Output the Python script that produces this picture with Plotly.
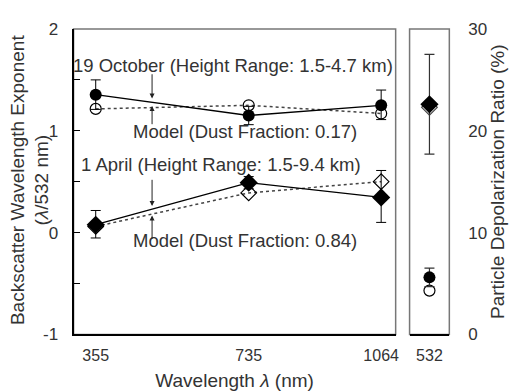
import plotly.graph_objects as go

# ---- data ----
wavelengths = [355, 735, 1064]
oct_obs = [1.355, 1.15, 1.25]
oct_obs_err_plus = [0.145, 0.09, 0.15]
oct_obs_err_minus = [0.145, 0.09, 0.14]
oct_model = [1.215, 1.25, 1.17]
apr_obs = [0.077, 0.49, 0.345]
apr_obs_err_plus = [0.14, 0.06, 0.265]
apr_obs_err_minus = [0.13, 0.06, 0.245]
apr_model = [0.06, 0.39, 0.50]

y_ticks = [-1, 0, 1, 2]
y_ticktext = ["-1", "0", "1", "2"]

depol_wl = ["532"]
oct_depol = [5.6]
oct_depol_err = [0.9]
oct_depol_model = [4.3]
apr_depol = [22.6]
apr_depol_err = [4.9]
apr_depol_model = [22.3]

FONT = "Liberation Sans, Arial, sans-serif"
TXT = "#333333"
FS = 16
AFS = 18.5
TFS = 19

fig = go.Figure()

# ---- main panel ----
fig.add_trace(go.Scatter(x=wavelengths, y=oct_model, mode="lines+markers",
                         line=dict(color="#444", width=1.5, dash="dot"),
                         marker=dict(symbol="circle-open", size=11, color="black", line=dict(width=1.2)),
                         xaxis="x", yaxis="y", showlegend=False))
fig.add_trace(go.Scatter(x=wavelengths, y=oct_obs, mode="lines+markers",
                         line=dict(color="black", width=1.3),
                         marker=dict(symbol="circle", size=12, color="black"),
                         error_y=dict(type="data", array=oct_obs_err_plus, arrayminus=oct_obs_err_minus,
                                      color="black", thickness=1, width=5),
                         xaxis="x", yaxis="y", showlegend=False))
fig.add_trace(go.Scatter(x=wavelengths, y=apr_model, mode="lines+markers",
                         line=dict(color="#444", width=1.5, dash="dot"),
                         marker=dict(symbol="diamond-open", size=12, color="black", line=dict(width=1.2)),
                         xaxis="x", yaxis="y", showlegend=False))
fig.add_trace(go.Scatter(x=wavelengths, y=apr_obs, mode="lines+markers",
                         line=dict(color="black", width=1.3),
                         marker=dict(symbol="diamond", size=14, color="black"),
                         error_y=dict(type="data", array=apr_obs_err_plus, arrayminus=apr_obs_err_minus,
                                      color="black", thickness=1, width=5),
                         xaxis="x", yaxis="y", showlegend=False))

# ---- right panel ----
fig.add_trace(go.Scatter(x=depol_wl, y=apr_depol_model, mode="markers",
                         marker=dict(symbol="diamond-open", size=12, color="#444", line=dict(width=1.2)),
                         xaxis="x2", yaxis="y2", showlegend=False))
fig.add_trace(go.Scatter(x=depol_wl, y=apr_depol, mode="markers",
                         marker=dict(symbol="diamond", size=14, color="black"),
                         error_y=dict(type="data", array=apr_depol_err, color="#333", thickness=1.2, width=5),
                         xaxis="x2", yaxis="y2", showlegend=False))
fig.add_trace(go.Scatter(x=depol_wl, y=oct_depol_model, mode="markers",
                         marker=dict(symbol="circle-open", size=11, color="black", line=dict(width=1.2)),
                         xaxis="x2", yaxis="y2", showlegend=False))
fig.add_trace(go.Scatter(x=depol_wl, y=oct_depol, mode="markers",
                         marker=dict(symbol="circle", size=12, color="black"),
                         error_y=dict(type="data", array=oct_depol_err, color="#333", thickness=1.2, width=5),
                         xaxis="x2", yaxis="y2", showlegend=False))

W, H = 509, 391
xd1 = [74 / W, 398 / W]
xd2 = [412 / W, 452 / W]
yd = [1 - 342 / H, 1 - 21 / H]

fig.update_layout(
    width=W, height=H,
    margin=dict(l=0, r=0, t=0, b=0),
    paper_bgcolor="white", plot_bgcolor="white",
    font=dict(family=FONT, size=FS, color=TXT),
    xaxis=dict(domain=xd1, range=[300, 1100], tickvals=wavelengths,
               ticktext=[str(w) for w in wavelengths], ticks="", showgrid=False, zeroline=False,
               showline=True, linecolor="black", linewidth=2, anchor="y",
               ticklabelstandoff=5,
               title=dict(text="Wavelength <i>λ</i> (nm)", standoff=12)),
    yaxis=dict(domain=yd, range=[-1, 2], tickvals=y_ticks, ticktext=y_ticktext,
               ticks="inside", ticklen=6, tickfont=dict(size=17),
               tickcolor="black", showgrid=False, zeroline=False,
               minor=dict(ticks="inside", dtick=0.5, ticklen=6, tickcolor="black"),
               showline=True, linecolor="black", linewidth=2, anchor="x",
               ticklabelstandoff=10),
    xaxis2=dict(domain=xd2, range=[-0.5, 0.5], type="category", ticks="", showgrid=False,
                zeroline=False, showline=True, linecolor="black", linewidth=2, anchor="y2",
                ticklabelstandoff=5),
    yaxis2=dict(domain=yd, range=[0, 30], tickvals=[0, 10, 20, 30], side="right", anchor="x2",
                ticks="", showgrid=False, zeroline=False, showline=False, ticklabelstandoff=18,
                tickfont=dict(size=17),
                title=dict(text="Particle Depolarization Ratio (%)", standoff=0)),
    yaxis3=dict(domain=yd, range=[0, 30], overlaying="y2", side="left", anchor="x2",
                tickvals=[5, 10, 15, 20, 25], ticks="inside", ticklen=6, tickcolor="black",
                showticklabels=False, showgrid=False, zeroline=False,
                showline=True, linecolor="black", linewidth=2),
    shapes=[
        dict(type="rect", xref="x domain", yref="y domain", x0=0, x1=1, y0=0, y1=1,
             line=dict(color="#777", width=1.5), layer="below"),
        dict(type="rect", xref="x2 domain", yref="y2 domain", x0=0, x1=1, y0=0, y1=1,
             line=dict(color="#777", width=1.5), layer="below"),
    ],
)

# left y-axis title (two lines)
fig.add_annotation(text="Backscatter Wavelength Exponent<br>(<i>λ</i>/532 nm)",
                   x=30 / W, y=1 - 180 / H, xref="paper", yref="paper", showarrow=False,
                   textangle=-90, xanchor="center", yanchor="middle",
                   font=dict(size=TFS, color=TXT))

# text annotations
texts = [
    ("19 October (Height Range: 1.5-4.7 km)", 697, 1.645),
    ("Model (Dust Fraction: 0.17)", 727, 0.99),
    ("1 April (Height Range: 1.5-9.4 km)", 665, 0.673),
    ("Model (Dust Fraction: 0.84)", 727, -0.075),
]
for t, x, y in texts:
    fig.add_annotation(text=t, x=x, y=y, xref="x", yref="y", showarrow=False,
                       xanchor="center", yanchor="middle", font=dict(size=AFS, color=TXT))

arrows = [
    (495, 1.318, 1.57),
    (495, 1.243, 1.05),
    (495, 0.262, 0.533),
    (495, 0.168, -0.075),
]
for x, yh, yt in arrows:
    fig.add_annotation(x=x, y=yh, ax=x, ay=yt, xref="x", yref="y", axref="x", ayref="y",
                       text="", showarrow=True, arrowhead=2, arrowsize=1, arrowwidth=1,
                       arrowcolor="#222")

fig.write_html("out.html")
